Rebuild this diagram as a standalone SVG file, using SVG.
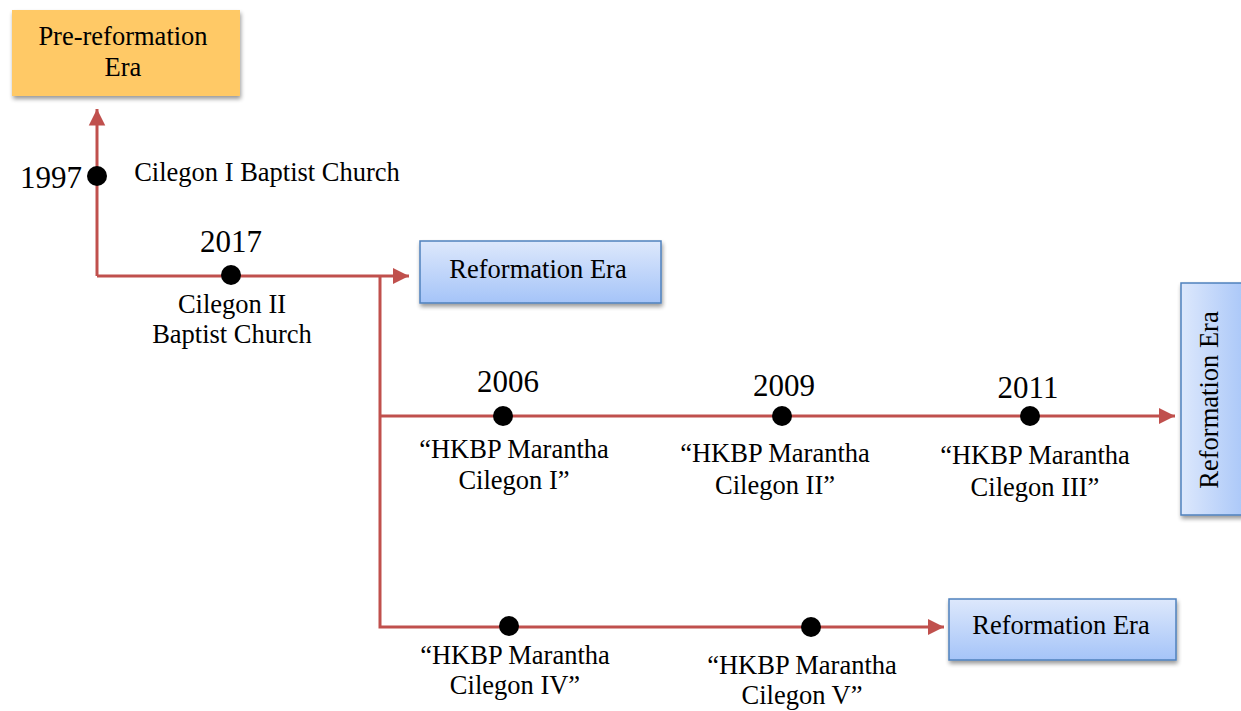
<svg xmlns="http://www.w3.org/2000/svg" width="1241" height="711" viewBox="0 0 1241 711">
<defs>
<linearGradient id="blue" x1="0" y1="0" x2="0" y2="1">
<stop offset="0" stop-color="#DDE8FC"/>
<stop offset="1" stop-color="#A5C4F8"/>
</linearGradient>
<linearGradient id="blueV" x1="0" y1="0" x2="1" y2="0">
<stop offset="0" stop-color="#DDE8FC"/>
<stop offset="1" stop-color="#A5C4F8"/>
</linearGradient>
<filter id="sh" x="-10%" y="-10%" width="130%" height="140%">
<feGaussianBlur in="SourceAlpha" stdDeviation="2"/>
<feOffset dx="1" dy="3" result="b"/>
<feComponentTransfer><feFuncA type="linear" slope="0.4"/></feComponentTransfer>
<feMerge><feMergeNode/><feMergeNode in="SourceGraphic"/></feMerge>
</filter>
<marker id="arr" viewBox="0 0 10 10" refX="10" refY="5" markerWidth="5.5" markerHeight="6" orient="auto" markerUnits="strokeWidth">
<path d="M0,0 L10,5 L0,10 Z" fill="#C0504D"/>
</marker>
</defs>
<style>
.t{font-family:"Liberation Serif","Times New Roman",serif;fill:#000;text-anchor:middle}
.lab{font-size:26.5px}
.yr{font-size:31px}
.ln{fill:none;stroke:#C0504D;stroke-width:3}
.dot{fill:#000}
.bbox{fill:url(#blue);stroke:#4F81BD;stroke-width:1.5}
</style>
<g id="connectors">
<path class="ln" d="M97,276 L97,109" marker-end="url(#arr)"/>
<path class="ln" d="M97,276 L409,276" marker-end="url(#arr)"/>
<path class="ln" d="M380,276 L380,627 L944,627" marker-end="url(#arr)"/>
<path class="ln" d="M380,416 L1175,416" marker-end="url(#arr)"/>
</g>
<g id="pre-reformation">
<rect x="12" y="10" width="228" height="86" fill="#FFC966" filter="url(#sh)"/>
<text class="t lab" x="123" y="45">Pre-reformation</text>
<text class="t lab" x="123" y="76">Era</text>
</g>
<g id="reformation1">
<rect class="bbox" x="420" y="241" width="241" height="62" filter="url(#sh)"/>
<text class="t lab" x="538" y="278">Reformation Era</text>
</g>
<g id="reformation2">
<rect x="1181" y="283" width="70" height="232" fill="url(#blueV)" stroke="#4F81BD" stroke-width="1.5" filter="url(#sh)"/>
<text class="t lab" transform="translate(1218,400) rotate(-90)">Reformation Era</text>
</g>
<g id="reformation3">
<rect class="bbox" x="949" y="599" width="227" height="61" filter="url(#sh)"/>
<text class="t lab" x="1061" y="634">Reformation Era</text>
</g>
<g id="e1997">
<circle class="dot" cx="97" cy="176" r="10"/>
<text class="t yr" x="51" y="188">1997</text>
<text class="t lab" x="267" y="181">Cilegon I Baptist Church</text>
</g>
<g id="e2017">
<circle class="dot" cx="231" cy="275" r="10"/>
<text class="t yr" x="231" y="252">2017</text>
<text class="t lab" x="232" y="313">Cilegon II</text>
<text class="t lab" x="232" y="343">Baptist Church</text>
</g>
<g id="e2006">
<circle class="dot" cx="503" cy="416" r="10"/>
<text class="t yr" x="508" y="392">2006</text>
<text class="t lab" x="514" y="458">“HKBP Marantha</text>
<text class="t lab" x="514" y="489">Cilegon I”</text>
</g>
<g id="e2009">
<circle class="dot" cx="782" cy="416" r="10"/>
<text class="t yr" x="784" y="396">2009</text>
<text class="t lab" x="775" y="462">“HKBP Marantha</text>
<text class="t lab" x="775" y="494">Cilegon II”</text>
</g>
<g id="e2011">
<circle class="dot" cx="1030" cy="416" r="10"/>
<text class="t yr" x="1028" y="398">2011</text>
<text class="t lab" x="1035" y="464">“HKBP Marantha</text>
<text class="t lab" x="1035" y="496">Cilegon III”</text>
</g>
<g id="e4">
<circle class="dot" cx="509" cy="626" r="10"/>
<text class="t lab" x="515" y="664">“HKBP Marantha</text>
<text class="t lab" x="515" y="694">Cilegon IV”</text>
</g>
<g id="e5">
<circle class="dot" cx="811" cy="627" r="10"/>
<text class="t lab" x="802" y="674">“HKBP Marantha</text>
<text class="t lab" x="802" y="704">Cilegon V”</text>
</g>
</svg>
